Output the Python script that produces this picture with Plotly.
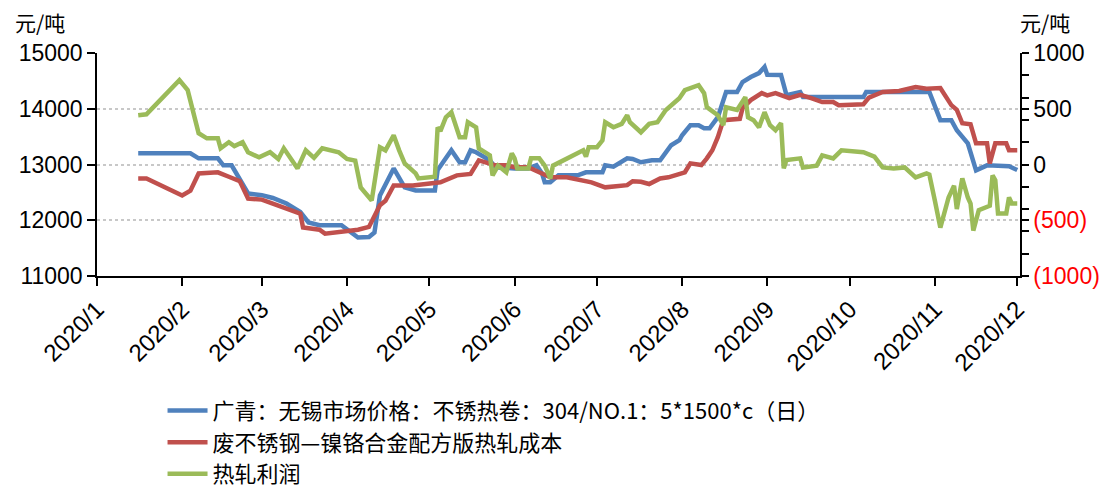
import plotly.graph_objects as go

# 广青 无锡 不锈热卷 304/NO.1 价格 (元/吨, 左轴)
blue_dates = ['2020-01-16', '2020-02-04', '2020-02-07', '2020-02-14', '2020-02-16', '2020-02-19',
              '2020-02-25', '2020-03-01', '2020-03-05', '2020-03-10', '2020-03-15', '2020-03-18',
              '2020-03-22', '2020-03-30', '2020-04-05', '2020-04-09', '2020-04-11', '2020-04-13',
              '2020-04-18', '2020-04-22', '2020-04-26', '2020-05-03', '2020-05-04', '2020-05-07',
              '2020-05-09', '2020-05-12', '2020-05-14', '2020-05-16', '2020-05-18', '2020-05-23',
              '2020-05-25', '2020-06-01', '2020-06-06', '2020-06-09', '2020-06-11', '2020-06-12',
              '2020-06-14', '2020-06-17', '2020-06-24', '2020-06-27', '2020-07-03', '2020-07-04',
              '2020-07-07', '2020-07-12', '2020-07-14', '2020-07-17', '2020-07-21', '2020-07-24',
              '2020-07-26', '2020-07-28', '2020-07-31', '2020-08-01', '2020-08-04', '2020-08-07',
              '2020-08-09', '2020-08-11', '2020-08-14', '2020-08-17', '2020-08-21', '2020-08-23',
              '2020-08-26', '2020-08-29', '2020-08-31', '2020-09-01', '2020-09-06', '2020-09-08',
              '2020-09-13', '2020-09-14', '2020-10-06', '2020-10-07', '2020-10-30', '2020-11-01',
              '2020-11-03', '2020-11-07', '2020-11-09', '2020-11-13', '2020-11-16', '2020-11-20',
              '2020-11-28', '2020-12-01']
blue_vals = [13200, 13200, 13110, 13110, 12985, 12985,
             12480, 12450, 12400, 12300, 12150, 11960,
             11910, 11910, 11690, 11700, 11780, 12445,
             12930, 12590, 12535, 12535, 12900, 13130,
             13255, 13040, 13040, 13255, 13220, 13075,
             12950, 12930, 12930, 12985, 12840, 12680,
             12680, 12805, 12805, 12860, 12860, 12985,
             12960, 13110, 13100, 13040, 13075, 13075,
             13220, 13345, 13435, 13525, 13705, 13705,
             13650, 13650, 13850, 14300, 14300, 14480,
             14570, 14640, 14750, 14610, 14605, 14245,
             14300, 14210, 14210, 14300, 14300, 14065,
             13795, 13795, 13615, 13380, 12895, 12985,
             12970, 12900]

# 废不锈钢—镍铬合金配方版热轧成本 (元/吨, 左轴)
red_dates = ['2020-01-16', '2020-01-19', '2020-02-01', '2020-02-04', '2020-02-07', '2020-02-14',
             '2020-02-18', '2020-02-22', '2020-02-25', '2020-03-01', '2020-03-05', '2020-03-10',
             '2020-03-15', '2020-03-16', '2020-03-22', '2020-03-24', '2020-03-30', '2020-04-05',
             '2020-04-09', '2020-04-13', '2020-04-15', '2020-04-18', '2020-04-25', '2020-05-05',
             '2020-05-11', '2020-05-16', '2020-05-19', '2020-05-22', '2020-05-25', '2020-05-29',
             '2020-06-01', '2020-06-06', '2020-06-11', '2020-06-14', '2020-06-20', '2020-06-24',
             '2020-06-29', '2020-07-04', '2020-07-09', '2020-07-12', '2020-07-14', '2020-07-17',
             '2020-07-20', '2020-07-24', '2020-07-27', '2020-08-02', '2020-08-04', '2020-08-08',
             '2020-08-10', '2020-08-12', '2020-08-14', '2020-08-16', '2020-08-22', '2020-08-23',
             '2020-08-26', '2020-08-30', '2020-09-01', '2020-09-04', '2020-09-09', '2020-09-13',
             '2020-09-17', '2020-09-21', '2020-09-25', '2020-09-27', '2020-10-06', '2020-10-08',
             '2020-10-13', '2020-10-19', '2020-10-25', '2020-10-29', '2020-11-03', '2020-11-05',
             '2020-11-07', '2020-11-09', '2020-11-11', '2020-11-14', '2020-11-16', '2020-11-20',
             '2020-11-21', '2020-11-23', '2020-11-27', '2020-11-28', '2020-12-01']
red_vals = [12750, 12750, 12445, 12530, 12840, 12860,
            12780, 12700, 12390, 12370, 12300, 12200,
            12120, 11870, 11830, 11760, 11790, 11830,
            11880, 12270, 12350, 12625, 12625, 12680,
            12805, 12830, 13075, 13040, 12985, 12985,
            12950, 12950, 12840, 12770, 12770, 12730,
            12680, 12590, 12610, 12630, 12700, 12690,
            12650, 12750, 12770, 12860, 13020, 12990,
            13110, 13255, 13490, 13795, 13820, 14010,
            14155, 14280, 14240, 14280, 14190, 14250,
            14190, 14120, 14120, 14065, 14080, 14200,
            14300, 14320, 14390, 14360, 14370, 14230,
            14065, 13980, 13740, 13720, 13380, 13380,
            13020, 13380, 13380, 13255, 13255]

# 热轧利润 (元/吨, 右轴)
green_dates = ['2020-01-16', '2020-01-19', '2020-01-31', '2020-02-03', '2020-02-07', '2020-02-10',
               '2020-02-14', '2020-02-15', '2020-02-18', '2020-02-20', '2020-02-23', '2020-02-25',
               '2020-02-29', '2020-03-04', '2020-03-07', '2020-03-09', '2020-03-14', '2020-03-17',
               '2020-03-20', '2020-03-23', '2020-03-29', '2020-04-01', '2020-04-04', '2020-04-06',
               '2020-04-10', '2020-04-13', '2020-04-15', '2020-04-18', '2020-04-20', '2020-04-22',
               '2020-04-26', '2020-04-27', '2020-05-03', '2020-05-04', '2020-05-05', '2020-05-07',
               '2020-05-09', '2020-05-12', '2020-05-14', '2020-05-15', '2020-05-18', '2020-05-19',
               '2020-05-23', '2020-05-24', '2020-05-26', '2020-05-29', '2020-05-31', '2020-06-01',
               '2020-06-02', '2020-06-06', '2020-06-07', '2020-06-10', '2020-06-12', '2020-06-14',
               '2020-06-15', '2020-06-20', '2020-06-24', '2020-06-26', '2020-06-27', '2020-06-28',
               '2020-07-01', '2020-07-03', '2020-07-04', '2020-07-07', '2020-07-10', '2020-07-12',
               '2020-07-13', '2020-07-17', '2020-07-20', '2020-07-23', '2020-07-26', '2020-07-28',
               '2020-07-31', '2020-08-02', '2020-08-05', '2020-08-07', '2020-08-09', '2020-08-10',
               '2020-08-14', '2020-08-16', '2020-08-17', '2020-08-21', '2020-08-24', '2020-08-25',
               '2020-08-27', '2020-08-29', '2020-08-31', '2020-09-02', '2020-09-04', '2020-09-06',
               '2020-09-07', '2020-09-08', '2020-09-13', '2020-09-14', '2020-09-19', '2020-09-21',
               '2020-09-25', '2020-09-28', '2020-10-06', '2020-10-10', '2020-10-13', '2020-10-17',
               '2020-10-21', '2020-10-25', '2020-10-29', '2020-10-30', '2020-11-01', '2020-11-03',
               '2020-11-06', '2020-11-08', '2020-11-09', '2020-11-11', '2020-11-13', '2020-11-14',
               '2020-11-15', '2020-11-17', '2020-11-21', '2020-11-22', '2020-11-23', '2020-11-24',
               '2020-11-27', '2020-11-28', '2020-11-29', '2020-12-01']
green_vals = [442, 450, 757, 667, 280, 235,
              235, 145, 200, 165, 200, 110,
              64, 110, 50, 145, -35, 127,
              60, 145, 110, 50, 35, -206,
              -323, 154, 127, 262, 127, 10,
              -80, -125, -110, 334, 300, 424,
              469, 244, 244, 379, 334, 145,
              82, -98, -10, -70, 100, 55,
              -35, -35, 55, 55, -10, -125,
              -10, 55, 100, 127, 70, 155,
              155, 217, 379, 334, 364, 442,
              379, 289, 364, 379, 487, 532,
              595, 667, 694, 712, 640, 514,
              442, 352, 514, 490, 604, 424,
              397, 334, 469, 352, 307, 370,
              -35, 40, 55, -26, -10, 82,
              55, 127, 110, 70, -26, -35,
              -26, -116, -80, -90, -323, -566,
              -296, -190, -400, -125, -296, -350,
              -593, -410, -370, -98, -140, -440,
              -440, -296, -350, -350]

names = ['广青：无锡市场价格：不锈热卷：304/NO.1：5*1500*c（日）',
         '废不锈钢—镍铬合金配方版热轧成本',
         '热轧利润']
colors = ['#4F81BD', '#C0504D', '#9BBB59']

month_ticks = ['2020-%02d-01' % m for m in range(1, 13)]
month_labels = ['2020/%d' % m for m in range(1, 13)]
left_ticks = [11000, 12000, 13000, 14000, 15000]
right_ticks = [-1000, -500, 0, 500, 1000]
right_labels = ['<span style="color:#FF0000">(1000)</span>',
                '<span style="color:#FF0000">(500)</span>', '0', '500', '1000']

FONT = 'Liberation Sans, Arial, Noto Sans CJK SC'
CJK = 'Noto Sans CJK SC, Liberation Sans'

fig = go.Figure()
fig.add_trace(go.Scatter(x=blue_dates, y=blue_vals, name=names[0], mode='lines',
                         line=dict(color=colors[0], width=4.5)))
fig.add_trace(go.Scatter(x=red_dates, y=red_vals, name=names[1], mode='lines',
                         line=dict(color=colors[1], width=4.5)))
fig.add_trace(go.Scatter(x=green_dates, y=green_vals, name=names[2], mode='lines', yaxis='y2',
                         line=dict(color=colors[2], width=4.5)))

# page body adds an 8px offset, so margins are shifted to keep the plot where the reference has it
fig.update_layout(
    width=1117, height=488,
    margin=dict(l=89, r=105, t=45, b=220, autoexpand=False),
    paper_bgcolor='white', plot_bgcolor='white',
    font=dict(family=FONT, size=21, color='black'),
    showlegend=True,
    legend=dict(x=0.071, y=-0.51, xanchor='left', yanchor='top',
                font=dict(size=22, family=CJK),
                tracegroupgap=0, itemwidth=40, bgcolor='rgba(0,0,0,0)'),
    xaxis=dict(type='date', range=['2020-01-01', '2020-12-02'], automargin=False,
               tickvals=month_ticks, ticktext=month_labels, tickangle=-45,
               ticks='outside', ticklen=8, tickwidth=1.5, tickcolor='black',
               showline=True, linecolor='black', linewidth=1.5,
               showgrid=False, zeroline=False, tickfont=dict(size=24)),
    yaxis=dict(range=[11000, 15000], tickvals=left_ticks, tickformat='d', automargin=False,
               ticks='outside', ticklen=8, tickwidth=1.5, tickcolor='black',
               showline=True, linecolor='black', linewidth=1.5,
               showgrid=True, gridcolor='#C8C8C8', griddash='dot', gridwidth=1.5,
               zeroline=False, tickfont=dict(size=23)),
    yaxis2=dict(range=[-1000, 1000], overlaying='y', side='right', automargin=False,
                tickvals=right_ticks, ticktext=right_labels,
                ticks='outside', ticklen=7, tickwidth=1.5, tickcolor='black',
                minor=dict(dtick=200, tick0=0, ticks='outside', ticklen=7,
                           tickwidth=1.5, tickcolor='black', showgrid=False),
                showline=True, linecolor='black', linewidth=1.5,
                showgrid=False, zeroline=False, tickfont=dict(size=23)),
    annotations=[
        dict(text='元/吨', xref='paper', yref='paper', x=-0.062, y=1.062,
             xanchor='center', yanchor='bottom', showarrow=False,
             font=dict(size=21, family=CJK)),
        dict(text='元/吨', xref='paper', yref='paper', x=1.027, y=1.062,
             xanchor='center', yanchor='bottom', showarrow=False,
             font=dict(size=21, family=CJK)),
    ],
)

fig.write_html('out.html')
